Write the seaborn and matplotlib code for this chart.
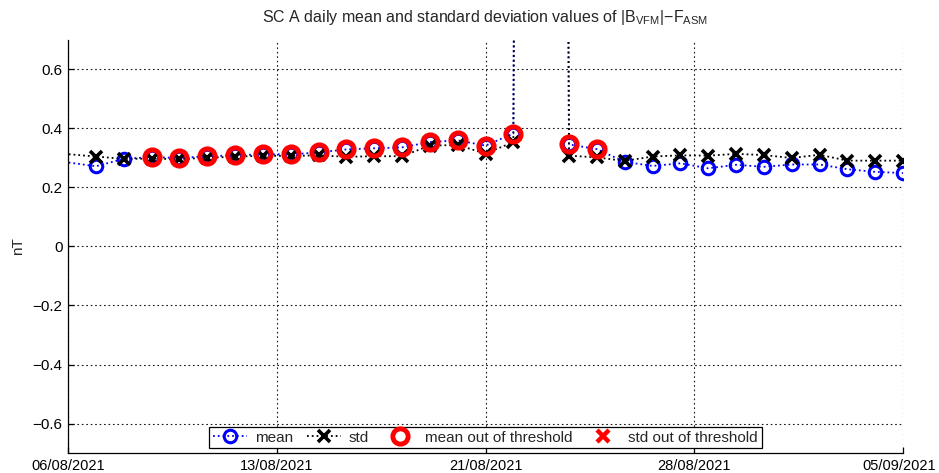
import numpy as np
import pandas as pd
import matplotlib
matplotlib.use('Agg')
import matplotlib.pyplot as plt
import seaborn as sns
from matplotlib.lines import Line2D
from matplotlib.transforms import ScaledTranslation

# daily values (05/08 only feeds the line entering at the left edge, 23/08 is off the chart)
dates = ['2021-08-05', '2021-08-07', '2021-08-08', '2021-08-09', '2021-08-10', '2021-08-11',
         '2021-08-12', '2021-08-13', '2021-08-14', '2021-08-15', '2021-08-16', '2021-08-17',
         '2021-08-18', '2021-08-19', '2021-08-20', '2021-08-21', '2021-08-22', '2021-08-23',
         '2021-08-24', '2021-08-25', '2021-08-26', '2021-08-27', '2021-08-28', '2021-08-29',
         '2021-08-30', '2021-08-31', '2021-09-01', '2021-09-02', '2021-09-03', '2021-09-04',
         '2021-09-05']
mean_nt = [0.298, 0.272, 0.297, 0.303, 0.300, 0.306,
           0.309, 0.313, 0.312, 0.319, 0.329, 0.333,
           0.336, 0.354, 0.360, 0.342, 0.383, 20.0,
           0.346, 0.330, 0.287, 0.273, 0.282, 0.265,
           0.277, 0.270, 0.278, 0.278, 0.262, 0.253,
           0.249]
std_nt = [0.321, 0.305, 0.297, 0.298, 0.296, 0.301,
          0.304, 0.308, 0.307, 0.309, 0.304, 0.306,
          0.306, 0.342, 0.344, 0.315, 0.354, 20.0,
          0.308, 0.302, 0.290, 0.305, 0.309, 0.308,
          0.314, 0.310, 0.300, 0.311, 0.291, 0.291,
          0.291]
mean_out = [False, False, False, True, True, True,
            True, True, True, True, True, True,
            True, True, True, True, True, False,
            True, True, False, False, False, False,
            False, False, False, False, False, False,
            False]

xtick_dates = ['2021-08-06 00:00', '2021-08-13 12:00', '2021-08-21 00:00',
               '2021-08-28 12:00', '2021-09-05 00:00']
xtick_labels = ['06/08/2021', '13/08/2021', '21/08/2021', '28/08/2021', '05/09/2021']
ytick_vals = [-0.6, -0.4, -0.2, 0, 0.2, 0.4, 0.6]
ytick_labels = ['\u22120.6', '\u22120.4', '\u22120.2', '0', '0.2', '0.4', '0.6']

sns.set_theme(style='white')
plt.rcParams['font.family'] = ['Liberation Sans', 'DejaVu Sans']
plt.rcParams['mathtext.default'] = 'regular'

df = pd.DataFrame({'date': pd.to_datetime(dates), 'mean': mean_nt, 'std': std_nt,
                   'out': mean_out})
out_df = df[df['out']]

fig = plt.figure(figsize=(9.39, 4.73), dpi=100)
ax = fig.add_axes([68/939, 1 - 453/473, 835/939, 413/473])

mean_style = dict(color='blue', linestyle=':', linewidth=1.3, marker='o', markersize=9,
                  markerfacecolor='none', markeredgecolor='blue', markeredgewidth=2.2)
std_style = dict(color='black', linestyle=':', linewidth=1.3, marker='x', markersize=8,
                 markeredgecolor='black', markeredgewidth=2.6)
red_o_style = dict(linestyle='', marker='o', markersize=11, markerfacecolor='none',
                   markeredgecolor='red', markeredgewidth=3.5)
red_x_style = dict(linestyle='', marker='x', markersize=8, color='red', markeredgewidth=3.2)

sns.lineplot(data=df, x='date', y='mean', ax=ax, errorbar=None, legend=False, **mean_style)
sns.lineplot(data=df, x='date', y='std', ax=ax, errorbar=None, legend=False, **std_style)
sns.lineplot(data=out_df, x='date', y='mean', ax=ax, errorbar=None, legend=False,
             color='red', **red_o_style)

ax.set_xlim(pd.Timestamp('2021-08-06'), pd.Timestamp('2021-09-05'))
ax.set_ylim(-0.7, 0.7)
ax.set_xticks(pd.to_datetime(xtick_dates))
ax.set_xticklabels(xtick_labels)
ax.set_yticks(ytick_vals)
ax.set_yticklabels(ytick_labels)

ax.grid(True, linestyle=(0, (1.5, 2.5)), color='0.1', linewidth=0.8)
for side in ['top', 'right']:
    ax.spines[side].set_visible(False)
for side in ['left', 'bottom']:
    ax.spines[side].set_color('black')
    ax.spines[side].set_linewidth(0.9)
ax.tick_params(direction='in', length=4, width=0.9, colors='black', labelsize=10.5, pad=4,
               bottom=True, left=True, top=False, right=False)
ax.tick_params(axis='y', labelsize=11)

# keep the last date label inside the figure
last = ax.get_xticklabels()[-1]
last.set_transform(last.get_transform() + ScaledTranslation(-4/100, 0, fig.dpi_scale_trans))

ax.set_xlabel('')
ax.set_ylabel('nT', fontsize=11)
ax.yaxis.set_label_coords(-0.052, 0.5)
ax.set_title(r'SC A daily mean and standard deviation values of |B$_{VFM}$|$-$F$_{ASM}$',
             fontsize=11.5, pad=13)

handles = [Line2D([], [], **mean_style), Line2D([], [], **std_style),
           Line2D([], [], **red_o_style), Line2D([], [], **red_x_style)]
labels = ['mean', 'std', 'mean out of threshold', 'std out of threshold']
leg = ax.legend(handles, labels, loc='lower center', ncol=4, frameon=True, fancybox=False,
                edgecolor='black', framealpha=1, fontsize=11, handlelength=2.2,
                handletextpad=0.55, columnspacing=0.9, borderpad=0.25, borderaxespad=0.3)
leg.get_frame().set_linewidth(0.9)

fig.savefig('out.png', dpi=100)
